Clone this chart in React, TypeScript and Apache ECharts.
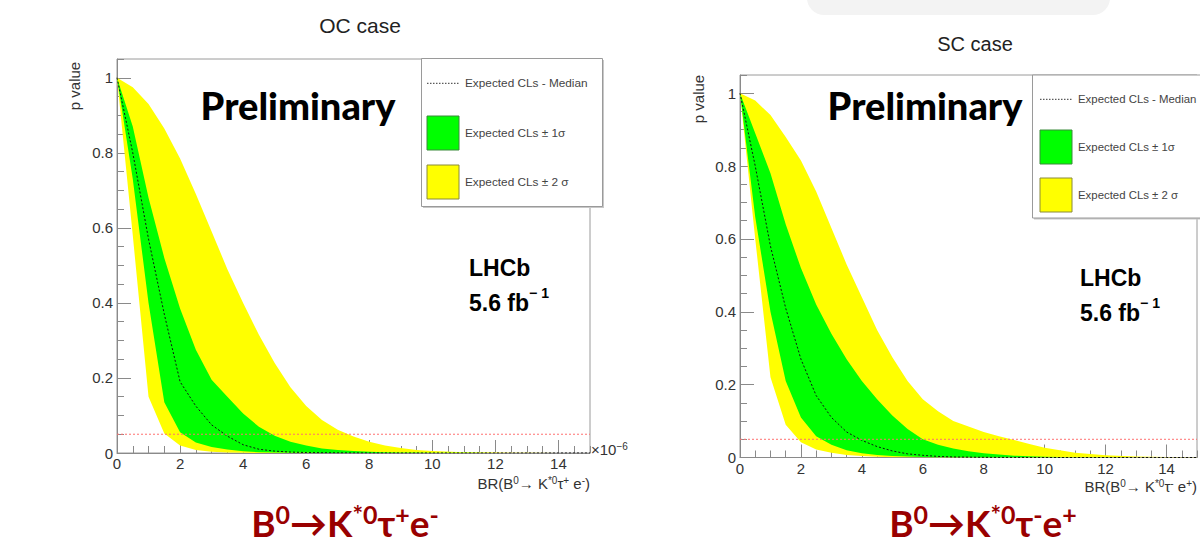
import React, { useEffect, useRef } from "react";
import * as echarts from "echarts";

// ---- data (BR in units of 1e-6, p value) ----
const xGrid = [0, 0.5, 1, 1.5, 2, 2.5, 3, 3.5, 4, 4.5, 5, 5.5, 6, 6.5, 7, 7.5, 8, 8.5, 9, 9.5, 10, 11, 12, 13, 14, 15];

// OC case: B0 -> K*0 tau+ e-
const ocUpper2 = [1, 0.975, 0.93, 0.865, 0.785, 0.69, 0.59, 0.49, 0.4, 0.315, 0.24, 0.175, 0.125, 0.088, 0.062, 0.044, 0.03, 0.02, 0.013, 0.008, 0.005, 0.002, 0.001, 0.0005, 0.0003, 0.0002];
const ocUpper1 = [1, 0.87, 0.68, 0.52, 0.385, 0.275, 0.195, 0.15, 0.105, 0.07, 0.046, 0.03, 0.02, 0.012, 0.008, 0.005, 0.003, 0.002, 0.0015, 0.001, 0.0007, 0.0004, 0.0003, 0.0002, 0.0001, 0.0001];
const ocMedian = [1, 0.8, 0.57, 0.37, 0.19, 0.125, 0.075, 0.045, 0.022, 0.01, 0.005, 0.0025, 0.0012, 0.0008, 0.0005, 0.0003, 0.0002, 0.0001, 0, 0, 0, 0, 0, 0, 0, 0];
const ocLower1 = [1, 0.73, 0.4, 0.135, 0.055, 0.028, 0.016, 0.009, 0.0045, 0.002, 0.001, 0.0006, 0.0004, 0.0003, 0.0002, 0.0001, 0, 0, 0, 0, 0, 0, 0, 0, 0, 0];
const ocLower2 = [1, 0.58, 0.15, 0.052, 0.02, 0.008, 0.003, 0.0012, 0.0005, 0.0002, 0.0001, 0, 0, 0, 0, 0, 0, 0, 0, 0, 0, 0, 0, 0, 0, 0];

// SC case: B0 -> K*0 tau- e+
const scUpper2 = [1, 0.98, 0.94, 0.88, 0.815, 0.73, 0.63, 0.53, 0.44, 0.35, 0.275, 0.21, 0.16, 0.127, 0.1, 0.085, 0.07, 0.058, 0.048, 0.037, 0.027, 0.013, 0.006, 0.003, 0.0015, 0.0008];
const scUpper1 = [1, 0.89, 0.78, 0.64, 0.52, 0.42, 0.34, 0.27, 0.21, 0.16, 0.115, 0.078, 0.05, 0.035, 0.025, 0.017, 0.012, 0.008, 0.005, 0.0035, 0.002, 0.001, 0.0005, 0.0003, 0.0002, 0.0001];
const scMedian = [1, 0.8, 0.58, 0.41, 0.27, 0.17, 0.11, 0.07, 0.047, 0.03, 0.018, 0.01, 0.006, 0.003, 0.0015, 0.001, 0.0005, 0.0003, 0.0002, 0.0001, 0, 0, 0, 0, 0, 0];
const scLower1 = [1, 0.66, 0.4, 0.21, 0.11, 0.058, 0.035, 0.02, 0.012, 0.007, 0.004, 0.0025, 0.0015, 0.001, 0.0006, 0.0004, 0.0003, 0.0002, 0.0001, 0, 0, 0, 0, 0, 0, 0];
const scLower2 = [1, 0.6, 0.22, 0.09, 0.042, 0.022, 0.013, 0.007, 0.004, 0.002, 0.001, 0.0006, 0.0004, 0.0002, 0.0001, 0, 0, 0, 0, 0, 0, 0, 0, 0, 0, 0];

const pThreshold = 0.05;
const xRange = [0, 15];
const yRange = [0, 1.05];
const xMajor = 2;
const xMinor = 0.5;
const yMajor = 0.2;
const yMinor = 0.05;

const panelTitles = ["OC case", "SC case"];
const legendLabels = ["Expected CLs - Median", "Expected CLs \u00b1 1\u03c3", "Expected CLs \u00b1 2 \u03c3"];

const HELV = "'Liberation Sans', Arial, sans-serif";
const LATO = "Lato, 'Noto Sans', sans-serif";
const YELLOW = "#ffff00";
const GREEN = "#00ff00";
const AXIS = "#8a8a8a";
const DARKRED = "#990000";

function bandSeries(xIdx: number, yIdx: number, lower: number[], upper: number[], color: string, z: number) {
  return {
    type: "custom",
    xAxisIndex: xIdx,
    yAxisIndex: yIdx,
    z,
    silent: true,
    clip: true,
    data: xGrid.map((x, i) => [x, lower[i], upper[i]]),
    encode: { x: 0, y: [1, 2] },
    renderItem: (params: any, api: any) => {
      if (params.dataIndex !== 0) return null;
      const pts: number[][] = [];
      for (let i = 0; i < xGrid.length; i++) pts.push(api.coord([xGrid[i], upper[i]]));
      for (let i = xGrid.length - 1; i >= 0; i--) pts.push(api.coord([xGrid[i], lower[i]]));
      return { type: "polygon", shape: { points: pts }, style: { fill: color, stroke: null } };
    },
  };
}

function lineSeries(xIdx: number, yIdx: number, xs: number[], ys: number[], color: string, z: number) {
  return {
    type: "line",
    xAxisIndex: xIdx,
    yAxisIndex: yIdx,
    z,
    silent: true,
    symbol: "none",
    data: xs.map((x, i) => [x, ys[i]]),
    lineStyle: { color, width: 1, type: [2, 2] },
  };
}

function xAxes(grid: number) {
  return [
    {
      type: "value", gridIndex: grid, position: "bottom", min: xRange[0], max: xRange[1], interval: xMajor,
      axisLine: { show: true, onZero: false, lineStyle: { color: AXIS, width: 1 } },
      axisTick: { show: true, inside: true, length: 13, lineStyle: { color: AXIS } },
      axisLabel: { show: true, fontSize: 15, fontFamily: HELV, color: "#333", margin: 3, showMaxLabel: false },
      splitLine: { show: false },
    },
    {
      type: "value", gridIndex: grid, position: "bottom", offset: 0, min: xRange[0], max: xRange[1], interval: xMinor,
      axisLine: { show: false, onZero: false },
      axisTick: { show: true, inside: true, length: 7, lineStyle: { color: AXIS } },
      axisLabel: { show: false },
      splitLine: { show: false },
    },
  ];
}

function yAxes(grid: number) {
  return [
    {
      type: "value", gridIndex: grid, position: "left", min: yRange[0], max: yRange[1], interval: yMajor,
      axisLine: { show: true, onZero: false, lineStyle: { color: AXIS, width: 1 } },
      axisTick: { show: true, inside: true, length: 14, lineStyle: { color: AXIS } },
      axisLabel: { show: true, fontSize: 15, fontFamily: HELV, color: "#333", margin: 4, showMaxLabel: false },
      splitLine: { show: false },
    },
    {
      type: "value", gridIndex: grid, position: "left", offset: 0, min: yRange[0], max: yRange[1], interval: yMinor,
      axisLine: { show: false, onZero: false },
      axisTick: { show: true, inside: true, length: 7, lineStyle: { color: AXIS } },
      axisLabel: { show: false },
      splitLine: { show: false },
    },
  ];
}

function txt(x: number, y: number, text: string, o: any = {}) {
  return {
    type: "text", x, y, z: 100, silent: true,
    rotation: o.rotation || 0,
    style: {
      text,
      fill: o.fill || "#333",
      fontSize: o.fontSize || 14,
      fontFamily: o.fontFamily || HELV,
      fontWeight: o.fontWeight || "normal",
      align: o.align || "left",
      textAlign: o.align || "left",
      verticalAlign: "middle",
      textVerticalAlign: "middle",
      rich: o.rich,
    },
  };
}

function supRich(fs: number, sfs: number, lhN: number, lhS: number, fill: string, family: string, weight: string) {
  return {
    n: { fontSize: fs, fontFamily: family, fontWeight: weight, fill, color: fill, lineHeight: lhN, verticalAlign: "bottom" },
    s: { fontSize: sfs, fontFamily: family, fontWeight: weight, fill, color: fill, lineHeight: lhS, verticalAlign: "top" },
  };
}

function legendBox(x: number, y: number, w: number, h: number, sx: number, rows: number[], fs: number) {
  return [
    { type: "rect", z: 99, silent: true, shape: { x: x + 1.5, y: y + 1.5, width: w, height: h }, style: { fill: "#c8c8c8" } },
    { type: "rect", z: 99, silent: true, shape: { x, y, width: w, height: h }, style: { fill: "#fff", stroke: "#9a9a9a", lineWidth: 1 } },
    { type: "line", z: 100, silent: true, shape: { x1: sx, y1: rows[0], x2: sx + 32, y2: rows[0] }, style: { stroke: "#333", lineWidth: 1, lineDash: [1.5, 1.5] } },
    { type: "rect", z: 100, silent: true, shape: { x: sx, y: rows[1] - 17, width: 32, height: 34 }, style: { fill: GREEN, stroke: "#3a8a3a", lineWidth: 1 } },
    { type: "rect", z: 100, silent: true, shape: { x: sx, y: rows[2] - 17, width: 32, height: 34 }, style: { fill: YELLOW, stroke: "#8a8a3a", lineWidth: 1 } },
    txt(sx + 38, rows[0], legendLabels[0], { fontSize: fs, fill: "#444" }),
    txt(sx + 38, rows[1], legendLabels[1], { fontSize: fs, fill: "#444" }),
    txt(sx + 38, rows[2], legendLabels[2], { fontSize: fs, fill: "#444" }),
  ];
}

export default function App() {
  const ref = useRef<HTMLDivElement>(null);
  useEffect(() => {
    document.body.style.margin = "0";
    const chart = echarts.init(ref.current!, null, { renderer: "svg" });
    const xTitleRich = supRich(15, 10, 15, 9, "#333", HELV, "normal");
    const bigRich = supRich(37, 25, 40, 28, DARKRED, LATO, "bold");
    const lumRich = supRich(23, 14, 28, 15, "#000", HELV, "bold");
    const option: any = {
      animation: false,
      backgroundColor: "#fff",
      grid: [
        { left: 117, top: 59, width: 473, height: 394, show: true, borderColor: "#9a9a9a", borderWidth: 1, backgroundColor: "transparent" },
        { left: 740, top: 75, width: 457, height: 382.5, show: true, borderColor: "#9a9a9a", borderWidth: 1, backgroundColor: "transparent" },
      ],
      xAxis: [...xAxes(0), ...xAxes(1)],
      yAxis: [...yAxes(0), ...yAxes(1)],
      series: [
        bandSeries(0, 0, ocLower2, ocUpper2, YELLOW, 1),
        bandSeries(0, 0, ocLower1, ocUpper1, GREEN, 2),
        lineSeries(0, 0, xGrid, ocMedian, "#111", 3),
        lineSeries(0, 0, xRange, [pThreshold, pThreshold], "#ff7070", 3),
        bandSeries(2, 2, scLower2, scUpper2, YELLOW, 1),
        bandSeries(2, 2, scLower1, scUpper1, GREEN, 2),
        lineSeries(2, 2, xGrid, scMedian, "#111", 3),
        lineSeries(2, 2, xRange, [pThreshold, pThreshold], "#ff7070", 3),
      ],
      graphic: [
        { type: "rect", z: 0, silent: true, shape: { x: 807, y: -20, width: 303, height: 35, r: 17 }, style: { fill: "#f3f3f3" } },
        txt(360, 25, panelTitles[0], { fontSize: 21, fill: "#222", align: "center" }),
        txt(975, 44, panelTitles[1], { fontSize: 20, fill: "#222", align: "center" }),
        txt(74, 86, "p value", { fontSize: 15, fill: "#333", align: "center", rotation: Math.PI / 2 }),
        txt(698, 99, "p value", { fontSize: 15, fill: "#333", align: "center", rotation: Math.PI / 2 }),
        txt(298, 105, "Preliminary", { fontSize: 38, fontFamily: LATO, fontWeight: 900, fill: "#000", align: "center" }),
        txt(925, 105, "Preliminary", { fontSize: 38, fontFamily: LATO, fontWeight: 900, fill: "#000", align: "center" }),
        txt(469, 268, "LHCb", { fontSize: 23, fontWeight: "bold", fill: "#000" }),
        txt(469, 300, "{n|5.6 fb}{s|\u2212 1}", { rich: lumRich }),
        txt(1080, 278, "LHCb", { fontSize: 23, fontWeight: "bold", fill: "#000" }),
        txt(1080, 310, "{n|5.6 fb}{s|\u2212 1}", { rich: lumRich }),
        txt(590, 483, "{n|BR(B}{s|0}{n|\u2192 K}{s|*0}{n|\u03c4}{s|+}{n| e}{s|-}{n|)}", { rich: xTitleRich, align: "right" }),
        txt(1197, 486, "{n|BR(B}{s|0}{n|\u2192 K}{s|*0}{n|\u03c4}{s|-}{n| e}{s|+}{n|)}", { rich: xTitleRich, align: "right" }),
        txt(591, 449, "{n|\u00d710}{s|\u22126}", { rich: xTitleRich }),
        txt(345, 521, "{n|B}{s|0}{n|\u2192K}{s|*0}{n|\u03c4}{s|+}{n|e}{s|-}", { rich: bigRich, align: "center" }),
        txt(983, 521, "{n|B}{s|0}{n|\u2192K}{s|*0}{n|\u03c4}{s|-}{n|e}{s|+}", { rich: bigRich, align: "center" }),
        ...legendBox(421.5, 58.5, 181, 148, 427, [83.3, 133, 182], 11.8),
        ...legendBox(1032.5, 75, 180, 143, 1040, [99.3, 147, 195], 11.4),
      ],
    };
    chart.setOption(option);
    return () => chart.dispose();
  }, []);
  return <div ref={ref} style={{ width: 1200, height: 548 }} />;
}
